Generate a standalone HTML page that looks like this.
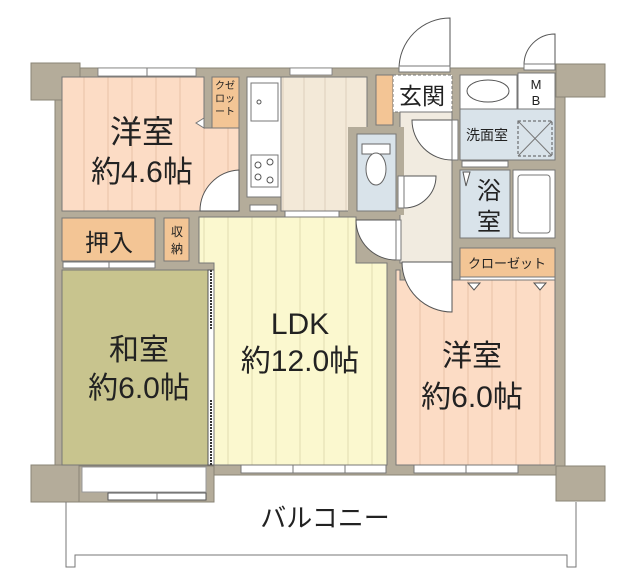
<!DOCTYPE html>
<html><head><meta charset="utf-8"><style>
html,body{margin:0;padding:0;background:#fff;width:640px;height:580px;overflow:hidden}
svg{display:block}
text{font-family:"Liberation Sans","Noto Sans CJK JP",sans-serif;fill:#222}
</style></head><body>
<svg width="640" height="580" viewBox="0 0 640 580" xmlns="http://www.w3.org/2000/svg">
<defs>
<pattern id="pY" width="24" height="10" patternUnits="userSpaceOnUse"><rect width="24" height="10" fill="#fcdcc5"/><line x1="12" y1="0" x2="12" y2="10" stroke="#e7c2a8" stroke-width="1"/></pattern>
<pattern id="pK" width="21" height="10" patternUnits="userSpaceOnUse"><rect width="21" height="10" fill="#f3e9d8"/><line x1="10" y1="0" x2="10" y2="10" stroke="#ddd0bb" stroke-width="1"/></pattern>
<pattern id="pL" width="24" height="10" patternUnits="userSpaceOnUse"><rect width="24" height="10" fill="#fbf8cf"/><line x1="12" y1="0" x2="12" y2="10" stroke="#e2ddb0" stroke-width="1"/></pattern>
</defs>
<!-- walls -->
<rect x="55" y="68" width="510" height="407" fill="#b4ac9a" stroke="#8a8476" stroke-width="1"/>
<rect x="31" y="63" width="49" height="37" fill="#b4ac9a" stroke="#8a8476"/>
<rect x="556" y="64" width="49" height="33" fill="#b4ac9a" stroke="#8a8476"/>
<rect x="31" y="465" width="50" height="37" fill="#b4ac9a" stroke="#8a8476"/>
<rect x="556" y="466" width="49" height="35" fill="#b4ac9a" stroke="#8a8476"/>
<rect x="79" y="466" width="135" height="36" fill="#b4ac9a" stroke="#8a8476"/>
<!-- top windows -->
<rect x="98" y="68" width="98" height="8" fill="#fff" stroke="#777" stroke-width="0.8"/>
<line x1="147" y1="68" x2="147" y2="76" stroke="#777"/>
<rect x="290" y="68" width="42" height="7" fill="#fff" stroke="#777" stroke-width="0.8"/>
<!-- 洋室4.6 -->
<polygon points="62,77 204,77 204,128 239,128 239,211 62,211" fill="url(#pY)" stroke="#777"/>
<rect x="212" y="77" width="27" height="51" fill="#f3c595" stroke="#777"/>
<text x="225" y="89" font-size="10" text-anchor="middle">クゼ</text>
<text x="225" y="102" font-size="10" text-anchor="middle">ロッ</text>
<text x="225" y="115" font-size="10" text-anchor="middle">ート</text>
<polygon points="204,118 196,123 204,128" fill="#fff" stroke="#777"/>
<path d="M239,170 A41,41 0 0 0 200,211 L239,211 Z" fill="#fff" stroke="#555" stroke-width="1"/>
<text x="142" y="143" font-size="32" text-anchor="middle">洋室</text>
<text x="142" y="182" font-size="30" text-anchor="middle">約4.6帖</text>
<!-- kitchen -->
<rect x="247" y="77" width="34" height="120" fill="#fff" stroke="#777"/>
<rect x="251" y="83" width="27" height="38" fill="#fff" stroke="#777"/>
<circle cx="259" cy="102" r="2" fill="none" stroke="#555"/>
<rect x="251" y="155" width="27" height="32" fill="#fff" stroke="#777"/>
<circle cx="258" cy="165" r="3" fill="none" stroke="#555"/><circle cx="270" cy="162" r="3" fill="none" stroke="#555"/><circle cx="258" cy="177" r="3" fill="none" stroke="#555"/><circle cx="270" cy="180" r="3" fill="none" stroke="#555"/>
<rect x="250" y="205" width="27" height="6" fill="#fff" stroke="#777"/>
<rect x="281" y="77" width="86" height="134" fill="url(#pK)" stroke="#777"/>
<rect x="285" y="211" width="54" height="6" fill="#fff" stroke="#777"/>
<!-- entrance -->
<rect x="376" y="75" width="17" height="50" fill="#f3c595" stroke="#777"/>
<rect x="393" y="75" width="59" height="37" fill="#fff" stroke="#777" stroke-dasharray="3,2"/>
<text x="422" y="104" font-size="23" text-anchor="middle">玄関</text>
<path d="M450,18 A51,51 0 0 0 399,69 L450,69 Z" fill="#fff" stroke="#555"/>
<rect x="399" y="66" width="51" height="6" fill="#fff" stroke="#777"/>
<!-- hall -->
<rect x="400" y="112" width="52" height="151" fill="#f1ebe0" stroke="#777"/>
<path d="M452,120 L412,120 A40,40 0 0 0 452,160 Z" fill="#fff" stroke="#555"/>
<rect x="452" y="120" width="6" height="40" fill="#fff" stroke="#777"/>
<!-- toilet -->
<rect x="348" y="127" width="56" height="88" fill="#b4ac9a"/>
<rect x="357" y="134" width="39" height="77" fill="#d9e3ea" stroke="#777"/>
<rect x="362" y="144" width="28" height="10" fill="#fff" stroke="#666"/>
<ellipse cx="376" cy="169" rx="10" ry="16" fill="#fff" stroke="#666"/>
<path d="M404,176 L436,176 A32,32 0 0 1 404,208 Z" fill="#fff" stroke="#555"/>
<rect x="398" y="176" width="6" height="32" fill="#fff" stroke="#777"/>
<!-- wash -->
<rect x="460" y="75" width="57" height="34" fill="#fff" stroke="#777"/>
<ellipse cx="488" cy="91" rx="21" ry="11" fill="#fff" stroke="#555"/>
<rect x="518" y="73" width="37" height="37" fill="#fff" stroke="#777"/>
<text x="536" y="89" font-size="13" text-anchor="middle">M</text>
<text x="536" y="105" font-size="13" text-anchor="middle">B</text>
<path d="M555,34 A31,31 0 0 0 524,65 L555,65 Z" fill="#fff" stroke="#555"/>
<rect x="524" y="64" width="31" height="6" fill="#fff" stroke="#777"/>
<rect x="460" y="109" width="95" height="51" fill="#d9e3ea" stroke="#777"/>
<rect x="518" y="121" width="34" height="35" fill="none" stroke="#555" stroke-dasharray="3,2"/>
<line x1="518" y1="121" x2="552" y2="156" stroke="#777"/><line x1="552" y1="121" x2="518" y2="156" stroke="#777"/>
<text x="487" y="140" font-size="14" text-anchor="middle">洗面室</text>
<rect x="462" y="161" width="46" height="6" fill="#fff" stroke="#777"/>
<!-- bath -->
<rect x="460" y="170" width="50" height="68" fill="#d9e3ea" stroke="#777"/>
<polygon points="463,172 470,172 466,186" fill="#fff" stroke="#555"/>
<text x="489" y="199" font-size="24" text-anchor="middle">浴</text>
<text x="489" y="230" font-size="24" text-anchor="middle">室</text>
<rect x="513" y="170" width="42" height="68" fill="#fff" stroke="#777"/>
<rect x="518" y="175" width="32" height="58" rx="3" fill="#fff" stroke="#777"/>
<!-- closet -->
<rect x="460" y="248" width="95" height="29" fill="#f3c595" stroke="#777"/>
<text x="507" y="268" font-size="13" text-anchor="middle">クローゼット</text>
<rect x="460" y="277" width="95" height="6" fill="#fff" stroke="#777"/>
<!-- 押入 収納 -->
<rect x="62" y="218" width="93" height="43" fill="#f3c595" stroke="#777"/>
<text x="109" y="251" font-size="24" text-anchor="middle">押入</text>
<rect x="164" y="218" width="25" height="43" fill="#f3c595" stroke="#777"/>
<text x="177" y="236" font-size="12" text-anchor="middle">収</text>
<text x="177" y="253" font-size="12" text-anchor="middle">納</text>
<rect x="63" y="262" width="92" height="6" fill="#fff" stroke="#777"/>
<line x1="109" y1="262" x2="109" y2="268" stroke="#777"/>
<!-- 和室 -->
<rect x="62" y="270" width="146" height="195" fill="#c8c48e" stroke="#777"/>
<rect x="208" y="270" width="6" height="195" fill="#fff" stroke="#555"/>
<line x1="211" y1="270" x2="211" y2="330" stroke="#333" stroke-width="2" stroke-dasharray="2,1"/>
<line x1="211" y1="400" x2="211" y2="465" stroke="#333" stroke-width="2" stroke-dasharray="2,1"/>
<text x="139" y="360" font-size="30" text-anchor="middle">和室</text>
<text x="139" y="398" font-size="30" text-anchor="middle">約6.0帖</text>
<!-- LDK -->
<polygon points="199,217 356,217 356,263 387,263 387,465 214,465 214,263 199,263" fill="url(#pL)" stroke="#777"/>
<path d="M396,220 L356,220 A40,40 0 0 0 396,260 Z" fill="#fff" stroke="#555"/>
<rect x="396" y="220" width="5" height="40" fill="#fff" stroke="#777"/>
<text x="300" y="334" font-size="30" text-anchor="middle">LDK</text>
<text x="300" y="371" font-size="30" text-anchor="middle">約12.0帖</text>
<!-- 洋室6 -->
<polygon points="396,270 400,270 400,280 555,280 555,465 396,465" fill="url(#pY)" stroke="#777"/>
<polygon points="468,283 480,283 474,290" fill="#fff" stroke="#555"/>
<polygon points="534,283 546,283 540,290" fill="#fff" stroke="#555"/>
<path d="M452,262 L402,262 A50,50 0 0 0 452,312 Z" fill="#fff" stroke="#555"/>
<text x="472" y="366" font-size="30" text-anchor="middle">洋室</text>
<text x="472" y="407" font-size="30" text-anchor="middle">約6.0帖</text>
<!-- bottom windows -->
<rect x="241" y="465" width="145" height="8" fill="#fff" stroke="#777"/>
<line x1="293" y1="465" x2="293" y2="473" stroke="#777"/><line x1="345" y1="465" x2="345" y2="473" stroke="#777"/>
<rect x="414" y="465" width="104" height="8" fill="#fff" stroke="#777"/>
<line x1="466" y1="465" x2="466" y2="473" stroke="#777"/>
<rect x="82" y="467" width="124" height="25" fill="#fff" stroke="#999"/>
<rect x="108" y="493" width="98" height="7" fill="#fff" stroke="#555"/>
<line x1="157" y1="493" x2="157" y2="500" stroke="#777"/>
<!-- balcony -->
<polyline points="66,502 66,567 75,567 75,555 567,555 567,567 576,567 576,502" fill="none" stroke="#777" stroke-width="1"/>
<text x="325" y="527" font-size="26" text-anchor="middle">バルコニー</text>
</svg>
</body></html>
